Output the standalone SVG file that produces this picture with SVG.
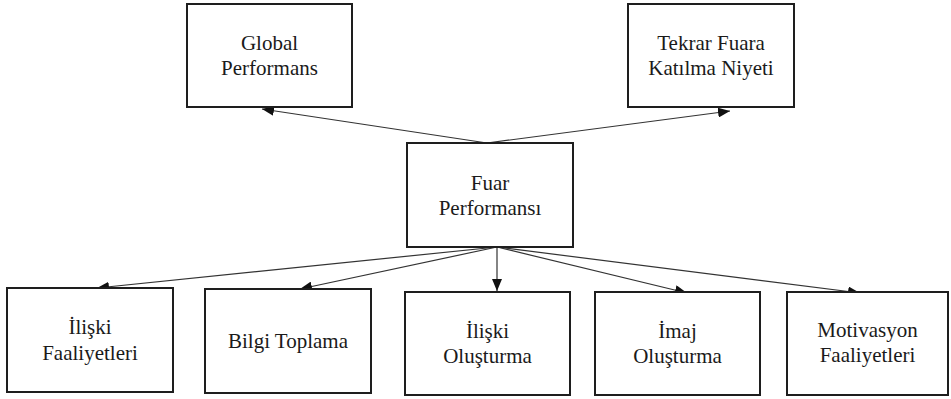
<svg xmlns="http://www.w3.org/2000/svg" width="951" height="399" viewBox="0 0 951 399">
  <style>
    .box { fill: #ffffff; stroke: #1e1e1e; stroke-width: 2; }
    .lbl { font-family: 'Liberation Serif', 'Times New Roman', serif; font-size: 21px; fill: #1a1a1a; text-anchor: middle; }
    .link { stroke: #333333; stroke-width: 1.2; fill: none; marker-end: url(#arrow); }
  </style>
  <defs>
    <marker id="arrow" viewBox="0 0 12 10" refX="12" refY="5" markerWidth="12" markerHeight="10" markerUnits="userSpaceOnUse" orient="auto">
      <path d="M0,0 L12,5 L0,10 Z" fill="#111111"/>
    </marker>
  </defs>
  <rect width="951" height="399" fill="#ffffff"/>

  <!-- arrows from the central box to the outcome and activity boxes -->
  <g id="connectors">
    <line class="link" x1="487" y1="143" x2="262" y2="109"/>
    <line class="link" x1="487" y1="143" x2="730" y2="111"/>
    <line class="link" x1="497" y1="247" x2="97" y2="288"/>
    <line class="link" x1="497" y1="247" x2="300" y2="289"/>
    <line class="link" x1="497" y1="247" x2="497" y2="291"/>
    <line class="link" x1="497" y1="247" x2="687" y2="293"/>
    <line class="link" x1="497" y1="247" x2="860" y2="293"/>
  </g>

  <g id="global-performans">
    <rect class="box" x="187" y="4" width="165" height="103"/>
    <text class="lbl" x="269.5" y="50">Global</text>
    <text class="lbl" x="269.5" y="75">Performans</text>
  </g>

  <g id="tekrar-fuara">
    <rect class="box" x="628" y="4" width="166" height="103"/>
    <text class="lbl" x="711" y="50">Tekrar Fuara</text>
    <text class="lbl" x="711" y="75">Katılma Niyeti</text>
  </g>

  <g id="fuar-performansi">
    <rect class="box" x="407" y="143" width="166" height="104"/>
    <text class="lbl" x="490" y="190">Fuar</text>
    <text class="lbl" x="490" y="215">Performansı</text>
  </g>

  <g id="iliski-faaliyetleri">
    <rect class="box" x="7" y="288" width="166" height="104"/>
    <text class="lbl" x="90" y="334">İlişki</text>
    <text class="lbl" x="90" y="360">Faaliyetleri</text>
  </g>

  <g id="bilgi-toplama">
    <rect class="box" x="205" y="289" width="166" height="104"/>
    <text class="lbl" x="288" y="348">Bilgi Toplama</text>
  </g>

  <g id="iliski-olusturma">
    <rect class="box" x="405" y="292" width="165" height="103"/>
    <text class="lbl" x="487.5" y="338">İlişki</text>
    <text class="lbl" x="487.5" y="363">Oluşturma</text>
  </g>

  <g id="imaj-olusturma">
    <rect class="box" x="595" y="292" width="165" height="103"/>
    <text class="lbl" x="677.5" y="338">İmaj</text>
    <text class="lbl" x="677.5" y="363">Oluşturma</text>
  </g>

  <g id="motivasyon-faaliyetleri">
    <rect class="box" x="787" y="292" width="161" height="103"/>
    <text class="lbl" x="867.5" y="337">Motivasyon</text>
    <text class="lbl" x="867.5" y="362">Faaliyetleri</text>
  </g>
</svg>
